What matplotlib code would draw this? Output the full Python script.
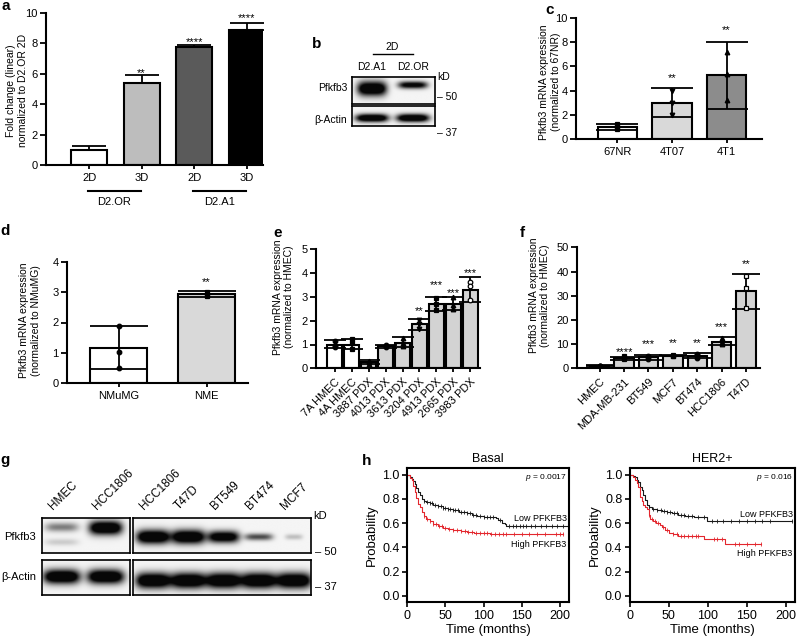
import numpy as np
import matplotlib.pyplot as plt

plt.rcParams['font.family'] = ['Liberation Sans', 'DejaVu Sans']
plt.rcParams['font.size'] = 7.5
plt.rcParams['axes.linewidth'] = 1.5
plt.rcParams['mathtext.fontset'] = 'custom'
plt.rcParams['mathtext.it'] = 'Liberation Sans:italic'
plt.rcParams['mathtext.rm'] = 'Liberation Sans'

# ---------------- data ----------------
a_labels = ['2D', '3D', '2D', '3D']
a_values = [1.0, 5.4, 7.75, 8.85]
a_hi = [1.27, 5.9, 7.87, 9.35]
a_colors = ['white', '#bdbdbd', '#5a5a5a', 'black']
a_stars = ['', '**', '****', '****']
a_star_y = [0, 6.25, 8.3, 9.87]
a_groups = ['D2.OR', 'D2.A1']

b_lanes = ['D2.A1', 'D2.OR']
b_pfkfb3 = [1.0, 0.8]
b_actin = [1.0, 1.0]

c_labels = ['67NR', '4T07', '4T1']
c_values = [1.0, 3.0, 5.25]
c_lo = [0.75, 1.8, 2.45]
c_hi = [1.25, 4.2, 8.05]
c_points = [[1.2, 1.0, 0.85], [4.0, 3.0, 2.0], [7.2, 5.35, 3.2]]
c_colors = ['white', '#d9d9d9', '#8c8c8c']
c_stars = ['', '**', '**']
c_star_y = [0, 5.3, 9.25]

d_labels = ['NMuMG', 'NME']
d_values = [1.15, 2.93]
d_lo = [0.45, 2.83]
d_hi = [1.87, 3.03]
d_points = [[1.9, 1.03, 0.48], [3.02, 2.9, 2.87]]
d_colors = ['white', '#d9d9d9']
d_stars = ['', '**']
d_star_y = [0, 3.44]

e_labels = ['7A HMEC', '4A HMEC', '3887 PDX', '4013 PDX', '3613 PDX',
            '3204 PDX', '4913 PDX', '2665 PDX', '3983 PDX']
e_values = [1.0, 1.0, 0.25, 0.92, 1.08, 1.85, 2.7, 2.7, 3.3]
e_lo = [0.85, 0.8, 0.18, 0.86, 0.88, 1.62, 2.42, 2.45, 2.8]
e_hi = [1.17, 1.24, 0.33, 0.98, 1.3, 2.07, 3.0, 3.0, 3.85]
e_points = [[1.15, 0.95, 0.9], [1.22, 1.05, 0.82], [0.32, 0.25, 0.2],
            [0.97, 0.92, 0.88], [1.28, 1.05, 0.92], [2.02, 1.85, 1.65],
            [2.95, 2.7, 2.47], [2.98, 2.65, 2.5], [3.62, 3.45, 2.85]]
e_colors = ['white', 'white'] + ['#d3d3d3'] * 7
e_stars = ['', '', '', '', '', '**', '***', '***', '***']
e_star_y = [0, 0, 0, 0, 0, 2.55, 3.63, 3.3, 4.14]

f_labels = ['HMEC', 'MDA-MB-231', 'BT549', 'MCF7', 'BT474', 'HCC1806', 'T47D']
f_values = [1.0, 4.2, 4.5, 5.2, 5.1, 10.8, 31.9]
f_lo = [0.8, 3.6, 3.6, 4.9, 4.2, 9.5, 24.5]
f_hi = [1.2, 4.7, 5.3, 5.6, 6.2, 12.9, 38.8]
f_points = [[1.05, 1.0, 0.95], [4.9, 4.2, 3.8], [5.0, 4.6, 4.0], [5.5, 5.2, 4.9],
            [6.0, 5.3, 4.3], [12.5, 10.8, 9.9], [38.2, 33.3, 25.0]]
f_colors = ['#d3d3d3'] * 7
f_stars = ['', '****', '***', '**', '**', '***', '**']
f_star_y = [0, 8.3, 11.3, 11.7, 11.7, 18.3, 44.3]

g_left_lanes = ['HMEC', 'HCC1806']
g_right_lanes = ['HCC1806', 'T47D', 'BT549', 'BT474', 'MCF7']
g_pfkfb3_left = [0.35, 1.0]
g_pfkfb3_left_minor = [0.12, 0.0]
g_pfkfb3_right = [1.0, 1.0, 0.9, 0.5, 0.16]
g_actin_left = [1.0, 1.0]
g_actin_right = [1.0, 1.0, 1.0, 1.0, 1.0]

basal_low_t = [0, 3, 6, 8, 10, 12, 14, 16, 19, 22, 25, 30, 34, 40, 47, 53, 60, 68,
               78, 85, 91, 100, 113, 116, 119, 124, 128, 130, 209]
basal_low_s = [1.0, 0.98, 0.967, 0.95, 0.926, 0.89, 0.858, 0.83, 0.80, 0.785, 0.775,
               0.765, 0.753, 0.74, 0.726, 0.716, 0.707, 0.695, 0.68, 0.67, 0.66, 0.655,
               0.652, 0.64, 0.625, 0.605, 0.59, 0.575, 0.575]
basal_low_cens = [22, 26, 30, 33, 36, 40, 44, 47, 50, 53, 56, 60, 63, 66, 70, 74, 78,
                  82, 86, 90, 95, 100, 104, 108, 112, 122, 133, 138, 143, 148, 152, 156,
                  162, 168, 175, 182, 190, 196, 204]
basal_high_t = [0, 3, 6, 8, 10, 12, 14, 16, 19, 22, 25, 30, 34, 40, 47, 53, 60, 70,
                78, 88, 95, 108, 204]
basal_high_s = [1.0, 0.975, 0.953, 0.91, 0.858, 0.81, 0.762, 0.73, 0.693, 0.66, 0.638,
                0.615, 0.597, 0.58, 0.562, 0.552, 0.542, 0.535, 0.529, 0.522, 0.518,
                0.51, 0.51]
basal_high_cens = [22, 26, 30, 34, 38, 42, 46, 50, 55, 60, 65, 70, 75, 80, 85, 90, 95,
                   100, 105, 110, 115, 120, 125, 130, 140, 150, 160, 170, 180, 195, 200, 204]

her2_low_t = [0, 4, 6.5, 9, 10.8, 13, 15, 17, 19.4, 21.5, 25, 28, 35, 41, 48, 54, 62,
              71, 82, 92.5, 99, 208.6]
her2_low_s = [1.0, 0.99, 0.98, 0.96, 0.94, 0.90, 0.87, 0.83, 0.79, 0.75, 0.73, 0.72,
              0.71, 0.70, 0.69, 0.68, 0.67, 0.66, 0.655, 0.647, 0.62, 0.62]
her2_low_cens = [25, 30, 35, 40, 44, 48, 52, 56, 60, 65, 70, 75, 80, 88, 95, 105, 112,
                 120, 130, 140, 150, 160, 170, 180, 208]
her2_high_t = [0, 4, 6.5, 9, 10.8, 13, 15, 17, 19, 21.5, 24, 25.8, 30, 34, 38, 41, 45,
               49.5, 55, 62, 94.6, 122.6, 168]
her2_high_s = [1.0, 0.98, 0.953, 0.93, 0.90, 0.816, 0.78, 0.748, 0.73, 0.72, 0.67,
               0.638, 0.62, 0.603, 0.585, 0.57, 0.542, 0.52, 0.51, 0.495, 0.466, 0.425,
               0.425]
her2_high_cens = [24, 28, 32, 36, 42, 48, 55, 60, 65, 70, 75, 80, 85, 88, 108, 112, 118,
                  135, 140, 150, 160, 168]

# ---------------- figure ----------------
W, H = 797, 638
fig = plt.figure(figsize=(W / 100, H / 100), dpi=100)


def px_axes(x0, y0, x1, y1):
    return fig.add_axes([x0 / W, 1 - y1 / H, (x1 - x0) / W, (y1 - y0) / H])


def letter(x, y, s):
    fig.text(x / W, 1 - y / H, s, fontsize=11, fontweight='bold', va='baseline', ha='left')


def ylab(ax, x, y, s):
    ax.text(x, y, s, transform=ax.transAxes, rotation=90, ha='center', va='center',
            linespacing=1.15)


def bar_panel(ax, values, colors, lo, hi, width, capsize, xlim, ylim, yticks,
              points=None, markers=None, mfc=None, stars=None, star_y=None):
    x = np.arange(len(values))
    values = np.array(values)
    ax.bar(x, values, width=width, color=colors, edgecolor='black', linewidth=1.5, zorder=2)
    lo_err = values - np.array(lo)
    hi_err = np.array(hi) - values
    ax.errorbar(x, values, yerr=[lo_err, hi_err], fmt='none', ecolor='black',
                elinewidth=1.3, capsize=capsize, capthick=1.3, zorder=3)
    if points is not None:
        for i, pts in enumerate(points):
            ax.plot([i] * len(pts), pts, linestyle='none', marker=markers[i], ms=3.3,
                    mfc=mfc[i], mec='black', mew=0.9, zorder=4)
    if stars:
        for i, s in enumerate(stars):
            if s:
                ax.annotate(s, (i, star_y[i]), xytext=(0, -4.6), textcoords='offset points',
                            ha='center', va='baseline', fontsize=8)
    ax.set_xlim(xlim)
    ax.set_ylim(ylim)
    ax.set_yticks(yticks)
    ax.set_xticks(x)
    ax.spines[['top', 'right']].set_visible(False)
    ax.tick_params(axis='both', width=1.3, labelsize=8)
    ax.tick_params(axis='y', length=4, pad=2)
    ax.tick_params(axis='x', length=3, pad=3)
    return x


def blot(ax, xlim, bands):
    xs = np.linspace(xlim[0], xlim[1], 400)
    ys = np.linspace(0, 1, 150)
    X, Y = np.meshgrid(xs, ys)
    img = np.full(X.shape, 0.03)
    for xc, inten, yc, hh, hw in bands:
        img += inten * np.exp(-(np.abs(X - xc) / hw) ** 4) * np.exp(-((Y - yc) / hh) ** 2)
    ax.imshow(np.clip(1.35 * img, 0, 0.97), extent=(xlim[0], xlim[1], 0, 1), origin='lower',
              cmap='gray_r', vmin=0, vmax=1, aspect='auto', interpolation='bilinear')
    ax.set_xlim(xlim)
    ax.set_ylim(0, 1)
    ax.set_xticks([])
    ax.set_yticks([])
    for s in ax.spines.values():
        s.set_linewidth(1.2)


# ---- a ----
ax = px_axes(46, 13, 263, 165)
bar_panel(ax, a_values, a_colors, a_values, a_hi, 0.69, 12, (-0.82, 3.31), (0, 10),
          range(0, 11, 2), stars=a_stars, star_y=a_star_y)
ax.set_xticklabels(a_labels)
tr = ax.get_xaxis_transform()
for k, g in enumerate(a_groups):
    ax.plot([2 * k - 0.02, 2 * k + 0.98], [-0.171, -0.171], color='black', lw=1.5,
            transform=tr, clip_on=False)
    ax.text(2 * k + 0.48, -0.243, g, transform=tr, ha='center', va='center', fontsize=8)
ylab(ax, -0.134, 0.49, 'Fold change (linear)\nnormalized to D2.OR 2D')
letter(1, 10, 'a')

# ---- b ----
bx = (-0.49, 1.54)
ax_b1 = px_axes(352, 77, 435, 104)
blot(ax_b1, bx, [(i, v, yc, hh, 0.36) for i, v, yc, hh in
                 zip(range(2), b_pfkfb3, [0.55, 0.68], [0.26, 0.13])])
ax_b2 = px_axes(352, 106, 435, 126)
blot(ax_b2, bx, [(i, v, 0.4, 0.2, 0.4) for i, v in enumerate(b_actin)])
tr = ax_b1.get_xaxis_transform()
for i, name in enumerate(b_lanes):
    ax_b1.text(i, 1.37, name, transform=tr, ha='center', va='center')
ax_b1.plot([0.02, 1.0], [1.85, 1.85], color='black', lw=1.0, transform=tr, clip_on=False)
ax_b1.text(0.5, 2.11, '2D', transform=tr, ha='center', va='center')
ax_b1.text(-0.06, 0.59, 'Pfkfb3', transform=ax_b1.transAxes, ha='right', va='center')
ax_b2.text(-0.06, 0.3, 'β-Actin', transform=ax_b2.transAxes, ha='right', va='center')
ax_b1.text(1.03, 1.0, 'kD', transform=ax_b1.transAxes, ha='left', va='center')
ax_b1.text(1.03, 0.26, '– 50', transform=ax_b1.transAxes, ha='left', va='center')
ax_b2.text(1.03, -0.35, '– 37', transform=ax_b2.transAxes, ha='left', va='center')
letter(312, 48, 'b')

# ---- c ----
ax = px_axes(576, 18, 762, 139)
bar_panel(ax, c_values, c_colors, c_lo, c_hi, 0.72, 15, (-0.76, 2.65), (0, 10),
          range(0, 11, 2), points=c_points, markers=['s', 'v', '^'],
          mfc=['black'] * 3, stars=c_stars, star_y=c_star_y)
ax.set_xticklabels(c_labels)
ylab(ax, -0.14, 0.47, 'Pfkfb3 mRNA expression\n(normalized to 67NR)')
letter(545, 14, 'c')

# ---- d ----
ax = px_axes(67, 262, 248, 383)
bar_panel(ax, d_values, d_colors, d_lo, d_hi, 0.65, 21, (-0.585, 1.47), (0, 4),
          range(0, 5), points=d_points, markers=['o', 's'], mfc=['black'] * 2,
          stars=d_stars, star_y=d_star_y)
ax.set_xticklabels(d_labels)
ylab(ax, -0.204, 0.52, 'Pfkfb3 mRNA expression\n(normalized to NMuMG)')
letter(0, 235, 'd')

# ---- e ----
ax = px_axes(316, 249.3, 480, 368.3)
bar_panel(ax, e_values, e_colors, e_lo, e_hi, 0.86, 8, (-1.09, 8.56), (0, 5),
          range(0, 6), points=e_points,
          markers=['o', 's', '^', 'o', '^', 'v', 's', '^', 'o'],
          mfc=['black'] * 8 + ['white'], stars=e_stars, star_y=e_star_y)
ax.set_xticklabels(e_labels, rotation=45, ha='right', rotation_mode='anchor')
ylab(ax, -0.2, 0.6, 'Pfkfb3 mRNA expression\n(normalized to HMEC)')
letter(273, 237, 'e')

# ---- f ----
ax = px_axes(577, 247.3, 760, 368.3)
bar_panel(ax, f_values, f_colors, f_lo, f_hi, 0.8, 10, (-0.93, 6.57), (0, 50),
          range(0, 51, 10), points=f_points,
          markers=['o', 's', 'o', 's', 'o', '^', 's'],
          mfc=['black'] * 6 + ['white'], stars=f_stars, star_y=f_star_y)
ax.set_xticklabels(f_labels, rotation=45, ha='right', rotation_mode='anchor')
ylab(ax, -0.207, 0.6, 'Pfkfb3 mRNA expression\n(normalized to HMEC)')
letter(520, 237, 'f')

# ---- g ----
gl = (-0.45, 1.55)
gr = (-0.57, 4.48)
ax_g1 = px_axes(42, 518, 130, 553)
bands = [(i, v, 0.74 if i == 0 else 0.72, 0.13 if i == 0 else 0.2, 0.38)
         for i, v in enumerate(g_pfkfb3_left)]
bands += [(i, v, 0.31, 0.1, 0.38) for i, v in enumerate(g_pfkfb3_left_minor)]
blot(ax_g1, gl, bands)
ax_g2 = px_axes(133, 518, 311, 553)
blot(ax_g2, gr, [(i, v, 0.46, hh, hw) for i, v, hh, hw in
                 zip(range(5), g_pfkfb3_right, [0.2, 0.2, 0.17, 0.1, 0.08],
                     [0.48, 0.48, 0.45, 0.4, 0.25])])
ax_g3 = px_axes(42, 560, 130, 595)
blot(ax_g3, gl, [(i, v, 0.51, 0.2, 0.42) for i, v in enumerate(g_actin_left)])
ax_g4 = px_axes(133, 560, 311, 595)
blot(ax_g4, gr, [(i, v, 0.4, 0.22, 0.5) for i, v in enumerate(g_actin_right)])
for axg, lanes in [(ax_g1, g_left_lanes), (ax_g2, g_right_lanes)]:
    for i, name in enumerate(lanes):
        axg.annotate(name, (i, 1), xycoords=axg.get_xaxis_transform(), xytext=(-5, 4),
                     textcoords='offset points', rotation=45, rotation_mode='anchor',
                     ha='left', va='bottom', fontsize=8.5)
ax_g1.text(-0.07, 0.46, 'Pfkfb3', transform=ax_g1.transAxes, ha='right', va='center',
           fontsize=8)
ax_g3.text(-0.07, 0.51, 'β-Actin', transform=ax_g3.transAxes, ha='right', va='center',
           fontsize=8)
ax_g2.text(1.01, 1.06, 'kD', transform=ax_g2.transAxes, ha='left', va='center', fontsize=8)
ax_g2.text(1.02, 0.03, '– 50', transform=ax_g2.transAxes, ha='left', va='center', fontsize=8)
ax_g4.text(1.02, 0.23, '– 37', transform=ax_g4.transAxes, ha='left', va='center', fontsize=8)
letter(0, 464, 'g')


# ---- h ----
def km_panel(ax, title, low, high, pval, low_y, high_y):
    for (t, s, cens), col in [(low, '#1a1a1a'), (high, '#e3262d')]:
        t = np.array(t)
        s = np.array(s)
        ax.step(t, s, where='post', color=col, lw=0.8)
        idx = np.searchsorted(t, cens, side='right') - 1
        ax.plot(cens, s[idx], linestyle='none', marker='|', ms=3.5, mew=0.6, color=col)
    ax.set_xlim(0, 212)
    ax.set_ylim(-0.05, 1.055)
    ax.set_xticks([0, 50, 100, 150, 200])
    ax.set_yticks(np.arange(0, 1.01, 0.2))
    ax.set_yticklabels(['%.1f' % v for v in np.arange(0, 1.01, 0.2)])
    ax.tick_params(width=1.2, length=3.5, labelsize=9, pad=2)
    ax.set_title(title, fontsize=9, pad=4)
    ax.set_xlabel('Time (months)', fontsize=9.5, labelpad=2)
    ax.set_ylabel('Probability', fontsize=9.5, labelpad=3)
    ax.text(0.985, 0.93, pval, transform=ax.transAxes, ha='right', va='center', fontsize=6)
    ax.text(0.985, low_y, 'Low PFKFB3', transform=ax.get_yaxis_transform(), ha='right',
            va='center', fontsize=6.5)
    ax.text(0.985, high_y, 'High PFKFB3', transform=ax.get_yaxis_transform(), ha='right',
            va='center', fontsize=6.5)


ax = px_axes(407.3, 468, 569, 602)
km_panel(ax, 'Basal', (basal_low_t, basal_low_s, basal_low_cens),
         (basal_high_t, basal_high_s, basal_high_cens), r'$p$ = 0.0017', 0.638, 0.427)
ax = px_axes(630, 468, 795, 602)
km_panel(ax, 'HER2+', (her2_low_t, her2_low_s, her2_low_cens),
         (her2_high_t, her2_high_s, her2_high_cens), r'$p$ = 0.016', 0.674, 0.35)
letter(362, 465, 'h')

fig.savefig('out.png', dpi=100)
